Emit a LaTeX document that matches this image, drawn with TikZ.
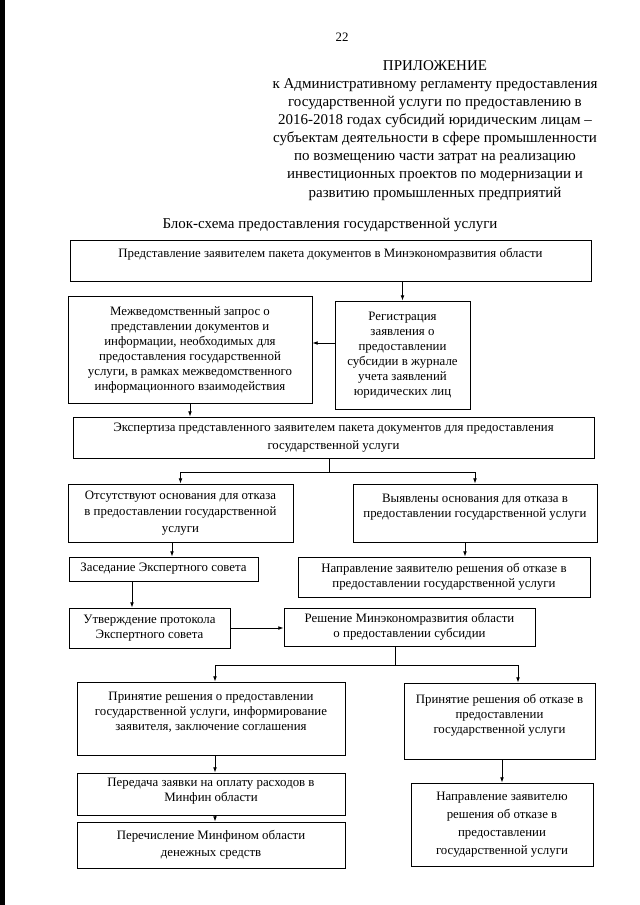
\documentclass[tikz,border=0pt]{standalone}
\usepackage{fontspec}
\setmainfont{Liberation Serif}
\usetikzlibrary{arrows.meta}

\newcommand\pxu{0.328125mm}
\newcommand\boxfont{\fontsize{12}{14}\selectfont}
\newcommand\headfont{\fontsize{14}{16.85}\selectfont}

\tikzset{
  box/.style={draw, line width=0.7pt, align=center, inner sep=1pt, font=\boxfont},
  arr/.style={-{Latex[length=5pt,width=3.5pt]}, line width=0.7pt},
  ln/.style={line width=0.7pt}
}

\begin{document}
\begin{tikzpicture}[x=\pxu, y=-\pxu]
    \useasboundingbox (0,0) rectangle (640,905);
    % scan edge
    \fill (0,0) rectangle (5,905);

    % Heading
    \node[font=\boxfont] (pagenum) at (342,37) {22};
    \node[align=center, font=\headfont] (annex) at (435,130.5) {ПРИЛОЖЕНИЕ\\
      к Административному регламенту предоставления\\
      государственной услуги по предоставлению в\\
      2016-2018 годах субсидий юридическим лицам --\\
      субъектам деятельности в сфере промышленности\\
      по возмещению части затрат на реализацию\\
      инвестиционных проектов по модернизации и\\
      развитию промышленных предприятий};
    \node[font=\headfont] (caption) at (330,225) {Блок-схема предоставления государственной услуги};

    % First row
    \node[box, minimum width=521*\pxu, minimum height=41*\pxu] (submit) at (330.5,260.5)
      {Представление заявителем пакета документов в Минэкономразвития области\\ \mbox{}};

    % Second row
    \node[box, minimum width=244*\pxu, minimum height=107*\pxu] (query) at (190,349.5)
      {Межведомственный запрос о\\ представлении документов и\\ информации, необходимых для\\
       предоставления государственной\\ услуги, в рамках межведомственного\\ информационного взаимодействия};
    \node[box, minimum width=135*\pxu, minimum height=108*\pxu] (register) at (402.5,355)
      {Регистрация\\ заявления о\\ предоставлении\\ субсидии в журнале\\ учета заявлений\\ юридических лиц};

    % Third row
    \node[box, minimum width=521*\pxu, minimum height=41*\pxu] (review) at (333.5,437.5)
      {Экспертиза представленного заявителем пакета документов для предоставления\\[3pt] государственной услуги};

    % Fourth row
    \node[box, minimum width=225*\pxu, minimum height=58*\pxu] (nogrounds) at (180.5,513)
      {Отсутствуют основания для отказа\\[1.5pt] в предоставлении государственной\\[1.5pt] услуги};
    \node[box, minimum width=244*\pxu, minimum height=58*\pxu] (grounds) at (475,513)
      {Выявлены основания для отказа в\\ предоставлении государственной услуги\\ \mbox{}};

    % Fifth row
    \node[box, minimum width=189*\pxu, minimum height=24*\pxu] (meeting) at (163.5,569)
      {Заседание Экспертного совета};
    \node[box, minimum width=292*\pxu, minimum height=40*\pxu] (refusal) at (444,577)
      {Направление заявителю решения об отказе в\\ предоставлении государственной услуги};

    % Sixth row
    \node[box, minimum width=161*\pxu, minimum height=40*\pxu] (protocol) at (149.5,628)
      {Утверждение протокола\\ Экспертного совета};
    \node[box, minimum width=251*\pxu, minimum height=38*\pxu] (decision) at (409.5,627)
      {Решение Минэкономразвития области\\ о предоставлении субсидии};

    % Left column
    \node[box, minimum width=268*\pxu, minimum height=73*\pxu] (grant) at (211,718.5)
      {Принятие решения о предоставлении\\ государственной услуги, информирование\\ заявителя, заключение соглашения\\ \mbox{}};
    \node[box, minimum width=268*\pxu, minimum height=42*\pxu] (transfer) at (211,794)
      {Передача заявки на оплату расходов в\\ Минфин области\\[-6pt] \mbox{}};
    \node[box, minimum width=268*\pxu, minimum height=46*\pxu] (payment) at (211,845)
      {Перечисление Минфином области\\[2pt] денежных средств};

    % Right column
    \node[box, minimum width=191*\pxu, minimum height=76*\pxu] (deny) at (499.5,721)
      {Принятие решения об отказе в\\ предоставлении\\ государственной услуги\\ \mbox{}};
    \node[box, minimum width=182*\pxu, minimum height=83*\pxu] (notice) at (502,824.5)
      {Направление заявителю\\[3pt] решения об отказе в\\[3pt] предоставлении\\[3pt] государственной услуги};

    % Connectors
    \draw[arr] (register.north |- submit.south) -- (register.north);
    \coordinate (regin) at (335,343);
    \draw[arr] (regin) -- (regin -| query.east);
    \draw[arr] (query.south) -- (query.south |- review.north);

    \coordinate (fork1) at (329,472);
    \draw[ln] (fork1 |- review.south) -- (fork1);
    \draw[arr] (fork1) -| (nogrounds.north);
    \draw[arr] (fork1) -| (grounds.north);

    \draw[arr] ([xshift=-8.5*\pxu]nogrounds.south) -- ([xshift=8.5*\pxu]meeting.north);
    \draw[arr] ([xshift=-10*\pxu]grounds.south) -- ([xshift=21*\pxu]refusal.north);
    \draw[arr] ([xshift=-31.5*\pxu]meeting.south) -- ([xshift=-17.5*\pxu]protocol.north);
    \draw[arr] (protocol.east) -- (protocol.east -| decision.west);

    \coordinate (fork2) at (395,665);
    \draw[ln] (fork2 |- decision.south) -- (fork2);
    \draw[arr] (fork2) -| ([xshift=4*\pxu]grant.north);
    \draw[arr] (fork2) -| ([xshift=18.5*\pxu]deny.north);

    \draw[arr] ([xshift=4*\pxu]grant.south) -- ([xshift=4*\pxu]transfer.north);
    \draw[arr] ([xshift=4*\pxu]transfer.south) -- ([xshift=4*\pxu]payment.north);
    \draw[arr] (deny.south -| notice.north) -- (notice.north);
\end{tikzpicture}
\end{document}
